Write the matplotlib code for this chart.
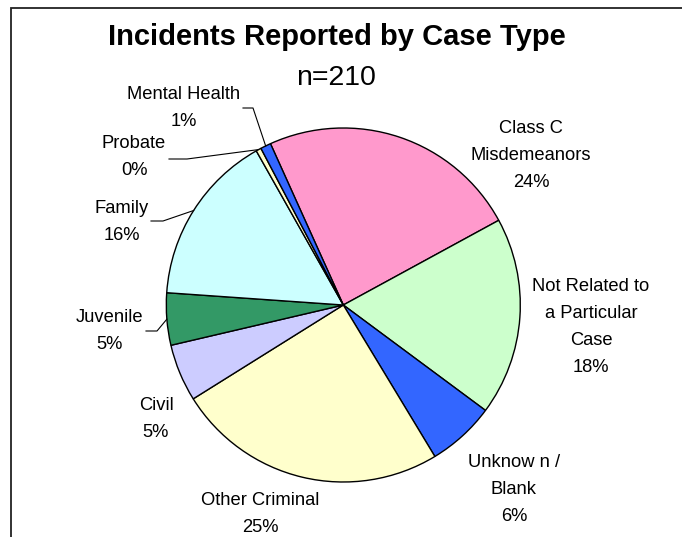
import numpy as np
import matplotlib
matplotlib.use("Agg")
import matplotlib.pyplot as plt
from matplotlib.lines import Line2D
from matplotlib.patches import Rectangle

# ---- data ----
categories = ["Class C\nMisdemeanors", "Not Related to\na Particular\nCase", "Unknow n /\nBlank",
              "Other Criminal", "Civil", "Juvenile", "Family", "Probate", "Mental Health"]
counts = [50, 38, 13, 52, 11, 10, 33, 1, 2]
colors = ["#FF99CC", "#CCFFCC", "#3366FF", "#FFFFCC", "#CCCCFF", "#339966", "#CCFFFF", "#FFFFCC", "#3366FF"]
title = "Incidents Reported by Case Type"
subtitle = "n=210"

# ---- layout (pixel coordinates, origin top-left) ----
W, H = 682, 537
cx, cy, R = 343.3, 305.0, 177.0
label_pos = [(531, 133), (591, 291), (514, 467), (260, 505), (156, 410),
             (110, 322), (122, 213), (134, 148), (183.5, 99)]
pitch = 27.0
leaders = {5: [(146, 331), (157, 331)], 6: [(151, 221), (163, 221)],
           7: [(169, 159), (187, 159)], 8: [(243, 108), (253, 108)]}

plt.rcParams["font.family"] = ["Liberation Sans", "DejaVu Sans"]
fig = plt.figure(figsize=(W / 100, H / 100), dpi=100)
ax = fig.add_axes([0, 0, 1, 1])

def Y(y):
    return H - y

wedges, _ = ax.pie(counts, colors=colors, startangle=114.3, counterclock=False,
                   center=(cx, Y(cy)), radius=R,
                   wedgeprops=dict(edgecolor="black", linewidth=1.0))
ax.set_xlim(0, W)
ax.set_ylim(0, H)
ax.set_aspect("equal")
ax.axis("off")

total = sum(counts)
for i, (cat, v) in enumerate(zip(categories, counts)):
    pct = f"{round(v / total * 100):.0f}%"
    lines = cat.split("\n") + [pct]
    x0, y0 = label_pos[i]
    for k, ln in enumerate(lines):
        ax.text(x0, Y(y0 + k * pitch), ln, ha="center", va="baseline",
                fontsize=13.2, color="black")

for i, pts in leaders.items():
    w = wedges[i]
    mid = np.deg2rad((w.theta1 + w.theta2) / 2)
    ex, ey = cx + R * np.cos(mid), Y(cy) + R * np.sin(mid)
    xs = [p[0] for p in pts] + [ex]
    ys = [Y(p[1]) for p in pts] + [ey]
    ax.add_line(Line2D(xs, ys, color="black", linewidth=0.8))

ax.text(337, Y(45), title, ha="center", va="baseline", fontsize=21, fontweight="bold")
ax.text(336, Y(85), subtitle, ha="center", va="baseline", fontsize=20.5)

# chart frame (right/bottom edges fall outside the image)
ax.add_patch(Rectangle((11, Y(8) - 700), 800, 700, fill=False, edgecolor="#222222",
                       linewidth=1.3, clip_on=False))

fig.savefig("out.png", dpi=100)
